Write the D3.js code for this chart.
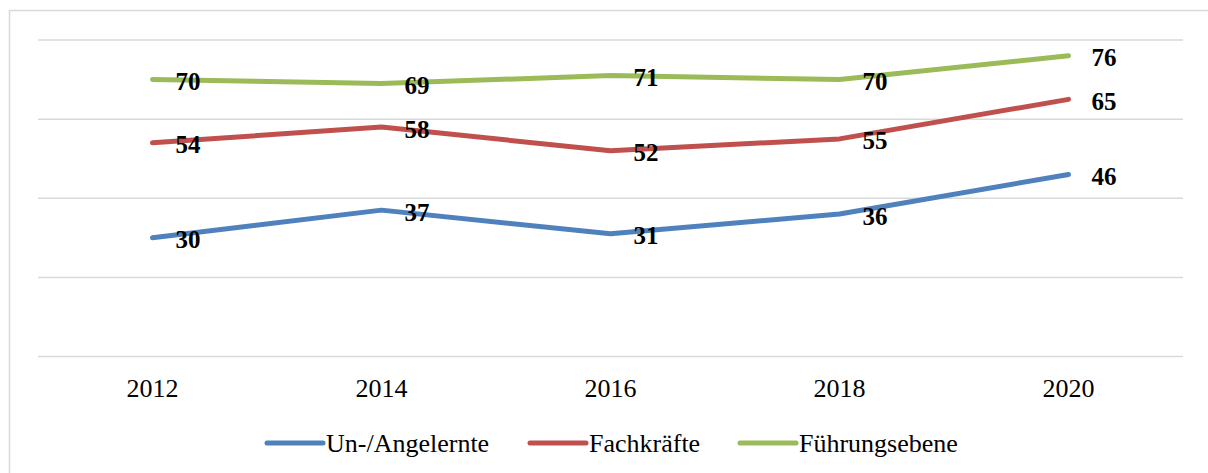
<!DOCTYPE html>
<html>
<head>
<meta charset="utf-8">
<script src="https://cdn.jsdelivr.net/npm/d3@7"></script>
<style>
  html, body { margin: 0; padding: 0; background: #fff; }
  svg { display: block; }
</style>
</head>
<body>
<svg id="chart" width="1208" height="473"></svg>
<script>
// --- data ---
const years = ["2012", "2014", "2016", "2018", "2020"];
const seriesNames = ["Un-/Angelernte", "Fachkräfte", "Führungsebene"];
const unAngelernte = [30, 37, 31, 36, 46];
const fachkraefte = [54, 58, 52, 55, 65];
const fuehrungsebene = [70, 69, 71, 70, 76];
const gridTicks = [0, 20, 40, 60, 80];

const colors = ["#4f81bd", "#c0504d", "#9bbb59"];
const seriesValues = [unAngelernte, fachkraefte, fuehrungsebene];

const plot = { left: 38, right: 1183, top: 40, bottom: 356.5 };
const serif = "'Liberation Serif', 'Times New Roman', serif";

const svg = d3.select("#chart");

// outer chart border (runs off the right/bottom edge)
svg.append("rect")
    .attr("x", 9.5).attr("y", 10.5)
    .attr("width", 1210).attr("height", 470)
    .attr("fill", "none")
    .attr("stroke", "#d9d9d9")
    .attr("stroke-width", 1.5);

const x = d3.scaleBand()
    .domain(years)
    .range([plot.left, plot.right]);

const y = d3.scaleLinear()
    .domain([0, 80])
    .range([plot.bottom, plot.top]);

const cx = d => x(d) + x.bandwidth() / 2;

// gridlines
svg.append("g")
    .selectAll("line")
    .data(gridTicks)
    .join("line")
    .attr("x1", plot.left).attr("x2", plot.right)
    .attr("y1", d => y(d)).attr("y2", d => y(d))
    .attr("stroke", "#d9d9d9")
    .attr("stroke-width", 1.5);

// year labels
svg.append("g")
    .selectAll("text")
    .data(years)
    .join("text")
    .attr("x", d => cx(d))
    .attr("y", 397)
    .attr("text-anchor", "middle")
    .attr("font-family", serif)
    .attr("font-size", "26px")
    .attr("fill", "#000")
    .text(d => d);

// lines
const line = d3.line()
    .x((d, i) => cx(years[i]))
    .y(d => y(d));

seriesValues.forEach((vals, s) => {
    svg.append("path")
        .datum(vals)
        .attr("d", line)
        .attr("fill", "none")
        .attr("stroke", colors[s])
        .attr("stroke-width", 5)
        .attr("stroke-linecap", "round")
        .attr("stroke-linejoin", "round");
});

// data labels (drawn after all lines so they sit on top)
seriesValues.forEach((vals, s) => {
    svg.append("g")
        .selectAll("text")
        .data(vals)
        .join("text")
        .attr("x", (d, i) => cx(years[i]) + 23)
        .attr("y", d => y(d) + 10.5)
        .attr("font-family", serif)
        .attr("font-size", "25px")
        .attr("font-weight", "bold")
        .attr("fill", "#000")
        .text(d => d);
});

// legend
const legendX = [267, 530, 740];
const legend = svg.append("g");
seriesNames.forEach((name, s) => {
    legend.append("line")
        .attr("x1", legendX[s]).attr("x2", legendX[s] + 56)
        .attr("y1", 443).attr("y2", 443)
        .attr("stroke", colors[s])
        .attr("stroke-width", 5)
        .attr("stroke-linecap", "round");
    legend.append("text")
        .attr("x", legendX[s] + 59)
        .attr("y", 452)
        .attr("font-family", serif)
        .attr("font-size", "26px")
        .attr("fill", "#000")
        .text(name);
});
</script>
</body>
</html>
